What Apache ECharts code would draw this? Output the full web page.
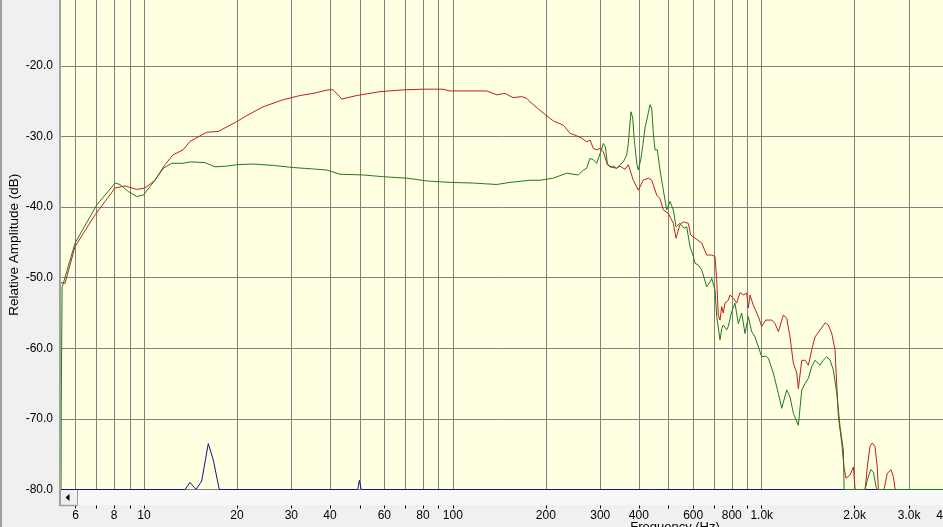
<!DOCTYPE html>
<html><head><meta charset="utf-8">
<script src="https://cdn.jsdelivr.net/npm/echarts@6/dist/echarts.min.js"></script>
<style>html,body{margin:0;padding:0;background:#f0f0f0;}#c{width:943px;height:527px;}</style>
</head><body><div id="c"></div>
<script>
const freqMin = 5.386, freqMax = 5000;
const dbMin = -80, dbMax = -10.67;
const gridTicksHz = [6,7,8,9,10,20,30,40,50,60,70,80,90,100,200,300,400,500,600,700,800,900,1000,2000,3000,4000];
const labelTicksHz = [6,8,10,20,30,40,60,80,100,200,300,400,600,800,1000,2000,3000,4000];
const dbTicks = [-80,-70,-60,-50,-40,-30,-20];

const redTrace = [[5.386,-50.7],[5.55,-50.8],[5.98,-45.6],[6.94,-41.1],[8.06,-37.3],[8.68,-37.0],[9.47,-37.5],[10.07,-37.3],[10.85,-36.2],[11.69,-34.0],[12.42,-32.6],[13.38,-31.9],[14.09,-30.7],[15.96,-29.4],[17.37,-29.3],[19.96,-27.9],[21.5,-27.05],[24.28,-25.8],[28.19,-24.8],[32.0,-24.2],[35.26,-23.9],[39.4,-23.4],[40.93,-23.4],[43.12,-24.4],[43.67,-24.7],[48.84,-24.2],[58.1,-23.65],[68.97,-23.4],[80.08,-23.3],[92.9,-23.3],[97.9,-23.55],[128.7,-23.55],[138.7,-24.1],[147.5,-23.9],[156.6,-24.5],[167.1,-24.35],[173.4,-24.6],[177.8,-25.1],[196.3,-26.7],[211.5,-27.8],[227.9,-28.4],[239.5,-29.55],[251.8,-29.9],[261.3,-30.25],[271.3,-30.75],[278,-30.5],[285,-31.7],[292.3,-31.9],[299.5,-31.7],[307,-32.15],[316.3,-34.0],[326.8,-34.35],[339.2,-34.5],[347.7,-34.2],[360.9,-34.65],[369.9,-34.0],[383.9,-36.2],[398.5,-37.6],[413.5,-36.2],[429.2,-35.9],[440.4,-36.2],[457.1,-38.3],[468.5,-38.8],[480.2,-40.4],[498.4,-40.9],[517.3,-42.3],[527.9,-44.4],[543.3,-42.5],[557.4,-42.1],[578.6,-42.3],[588.9,-43.95],[608.2,-44.4],[639.3,-45.1],[663.6,-46.8],[688.7,-46.8],[705.9,-47.0],[714.9,-50.3],[723.4,-55.3],[732.8,-56.0],[742.1,-54.1],[750.9,-55.0],[760.4,-53.6],[779.4,-53.2],[789.3,-52.45],[809.4,-52.9],[829.8,-53.6],[850.4,-52.1],[871.7,-52.45],[894.2,-52.2],[905,-54.3],[916.5,-52.45],[939.3,-53.9],[974.9,-55.5],[1000,-56.9],[1031,-56.0],[1077.6,-56.0],[1104.5,-56.5],[1132,-57.65],[1175,-55.3],[1205,-55.75],[1235,-58.4],[1266,-62.1],[1298.6,-63.5],[1314,-65.7],[1348,-61.7],[1381.6,-61.7],[1416,-62.4],[1452,-60.2],[1488,-58.4],[1545,-57.4],[1604,-56.4],[1643,-56.7],[1686,-57.9],[1727,-60.2],[1771,-69.7],[1816,-73.4],[1846,-76.8],[1874,-78.4],[1931,-77.95],[1981,-76.8],[2006,-80],[2161,-80],[2198,-76.8],[2242,-73.9],[2281,-73.4],[2327,-73.9],[2366,-76.8],[2387,-80],[2489,-80],[2551,-77.7],[2624,-77.2],[2668,-78.2],[2704,-80],[3864,-80]];

const greenTrace = [[5.386,-80],[5.40,-65.2],[5.43,-51.3],[5.48,-50.8],[5.98,-45.1],[7.03,-39.7],[8.06,-36.6],[8.36,-36.8],[8.90,-37.8],[9.47,-38.5],[9.95,-38.3],[10.85,-36.2],[11.55,-34.5],[12.30,-33.8],[13.38,-33.8],[14.09,-33.6],[15.76,-33.7],[16.98,-34.3],[18.53,-34.2],[19.96,-34.0],[22.59,-33.9],[26.23,-34.1],[30.43,-34.4],[35.3,-34.6],[39.05,-34.75],[43.12,-35.35],[51.29,-35.45],[59.54,-35.7],[70.9,-35.9],[82.3,-36.3],[97.9,-36.5],[116.5,-36.6],[138.7,-36.8],[153.1,-36.5],[177.8,-36.2],[191.5,-36.2],[211.5,-35.9],[233.7,-35.2],[254.8,-35.45],[264.5,-34.75],[271.3,-34.5],[278,-33.1],[285,-33.3],[292.3,-33.8],[301.1,-32.15],[307,-31.0],[311.6,-31.4],[316.3,-33.8],[322.7,-34.35],[330.7,-34.2],[339.2,-34.5],[347.7,-34.0],[356.4,-33.6],[365.5,-32.6],[369.9,-31.0],[374.6,-28.1],[377.4,-26.5],[382.2,-27.4],[385.9,-30.0],[393.8,-33.8],[398.5,-34.75],[405.7,-33.3],[411.8,-31.4],[418.9,-28.8],[424.2,-28.6],[429.2,-26.7],[434.8,-25.5],[440.4,-26.0],[445.7,-29.55],[451.3,-31.9],[459.2,-31.9],[468.5,-34.75],[480.2,-37.6],[492.5,-40.4],[504.8,-39.2],[517.3,-40.4],[527.9,-42.8],[543.3,-42.3],[550.8,-42.1],[560.4,-43.0],[571.7,-42.8],[586,-45.6],[600.6,-47.0],[608.2,-47.96],[623.2,-48.2],[639.3,-48.9],[663.6,-51.3],[680.3,-50.6],[688.7,-50.1],[705.9,-51.75],[714.9,-55.5],[732.8,-58.8],[742.1,-57.2],[750.9,-56.7],[770.2,-57.4],[779.4,-56.9],[799.6,-54.8],[819.3,-53.6],[839.7,-56.5],[861.3,-55.0],[883,-57.9],[905,-55.5],[928.2,-57.65],[951.1,-58.4],[1000,-61.2],[1031,-61.1],[1050.5,-61.4],[1090.4,-63.5],[1132,-66.4],[1161,-68.5],[1205,-65.9],[1235,-66.9],[1266,-69.2],[1314,-70.9],[1348,-65.9],[1381.6,-65.0],[1416,-64.25],[1452,-62.6],[1488,-61.7],[1545,-62.4],[1581,-61.7],[1624,-61.2],[1665,-61.7],[1706,-63.1],[1750,-66.4],[1793,-71.1],[1838,-74.4],[1848,-80],[2161,-80],[2198,-78.65],[2254,-77.2],[2298,-77.5],[2345,-79.6],[2366,-80],[3864,-80]];

const blueTrace = [[5.386,-80],[13.58,-80],[14.09,-79.0],[14.74,-80],[15.37,-78.8],[16.15,-73.5],[16.76,-75.8],[17.53,-80],[49.2,-80],[49.8,-78.7],[50.5,-80],[3864,-80]];

const lg = v => Math.log10(v);
const toXY = arr => arr.map(p => [lg(p[0]), p[1]]);
function fmtHz(v) {
  const f = Math.round(Math.pow(10, v));
  return f >= 1000 ? (f / 1000).toFixed(1) + 'k' : String(f);
}
const font = '"Liberation Sans", Arial, sans-serif';
const chart = echarts.init(document.getElementById('c'), null, {renderer: 'canvas'});
const lineSeries = (name, data, color) => ({
  name, type: 'line', data: toXY(data), symbol: 'none', smooth: false,
  lineStyle: {color, width: 1}, itemStyle: {color}, clip: true
});
chart.setOption({
  animation: false,
  backgroundColor: '#f0f0f0',
  grid: {left: 61, top: 0, width: 916.6, height: 489.5, show: true, backgroundColor: '#ffffe1', borderWidth: 0,
         containLabel: false, outerBoundsMode: 'none'},
  xAxis: {
    type: 'value', min: lg(freqMin), max: lg(freqMax), offset: 16,
    axisLine: {show: false},
    axisTick: {show: true, length: 3, customValues: gridTicksHz.map(lg), lineStyle: {color: '#000', width: 1}},
    axisLabel: {customValues: labelTicksHz.map(lg), formatter: fmtHz, margin: 4, fontSize: 12, color: '#000', fontFamily: font},
    splitLine: {show: true, lineStyle: {color: '#808080', width: 1}}
  },
  yAxis: {
    type: 'value', min: dbMin, max: dbMax,
    name: 'Relative Amplitude (dB)', nameLocation: 'middle', nameGap: 40, nameMoveOverlap: false,
    nameTextStyle: {fontSize: 13.5, color: '#000', fontFamily: font},
    axisLine: {show: false},
    axisTick: {show: false, customValues: dbTicks},
    axisLabel: {customValues: dbTicks, formatter: v => v.toFixed(1), margin: 8, fontSize: 12, color: '#000', fontFamily: font},
    splitLine: {show: true, lineStyle: {color: '#808080', width: 1}}
  },
  series: [
    lineSeries('Noise', blueTrace, '#14148c'),
    lineSeries('Response A', redTrace, '#c41e1e'),
    lineSeries('Response B', greenTrace, '#1f7a1f')
  ],
  graphic: [
    {type: 'rect', z: 100, shape: {x: 0, y: 0, width: 2, height: 527}, style: {fill: '#a0a0a0'}},
    {type: 'rect', z: 100, shape: {x: 61, y: 490, width: 882, height: 15}, style: {fill: '#f8f8f8'}},
    {type: 'rect', z: 101, shape: {x: 61, y: 490, width: 16, height: 15}, style: {fill: '#f0f0f0'}},
    {type: 'line', z: 102, shape: {x1: 59.5, y1: 505.5, x2: 77.5, y2: 505.5}, style: {stroke: '#a0a0a0', lineWidth: 1.5}},
    {type: 'line', z: 102, shape: {x1: 77.5, y1: 490, x2: 77.5, y2: 506}, style: {stroke: '#a0a0a0', lineWidth: 1}},
    {type: 'polygon', z: 102, shape: {points: [[65.5, 497.5], [69.5, 494], [69.5, 501]]}, style: {fill: '#000'}},
    {type: 'line', z: 102, shape: {x1: 60, y1: 0, x2: 60, y2: 506}, style: {stroke: '#a0a0a0', lineWidth: 2}},
    {type: 'text', z: 102, x: 675, y: 521, style: {text: 'Frequency (Hz)', fontSize: 13, fontFamily: font, fill: '#000', align: 'center', verticalAlign: 'top'}}
  ]
});
</script></body></html>
